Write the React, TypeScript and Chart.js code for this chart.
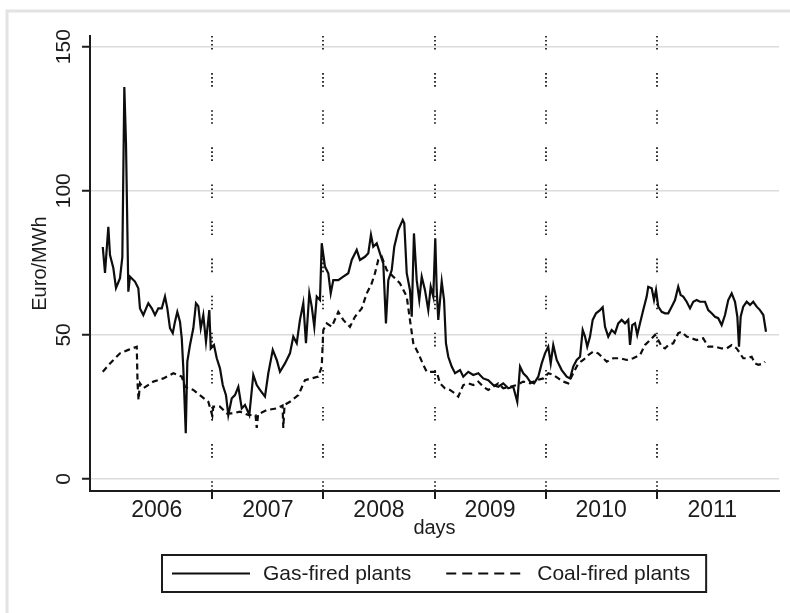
import React, { useEffect, useRef } from 'react';
import { Chart, registerables } from 'chart.js';

Chart.register(...registerables);

const FONT = '"Liberation Sans", Arial, Helvetica, sans-serif';
const INK = '#1c1c1c';

// x axis: year boundaries carry tick marks and dotted verticals, mid-year positions carry the labels
const yearStarts = [2007, 2008, 2009, 2010, 2011];
const yearMids = [2006.5, 2007.5, 2008.5, 2009.5, 2010.5, 2011.5];
const yearLabels = ['2006', '2007', '2008', '2009', '2010', '2011'];
const yTicks = [0, 50, 100, 150];

// [decimal year, Euro/MWh]
const gasSeries: [number, number][] = [
  [2006.014, 80.5], [2006.034, 71.5], [2006.064, 87.5], [2006.079, 77.7], [2006.109, 73.2],
  [2006.133, 66.3], [2006.169, 69.7], [2006.19, 77], [2006.208, 136], [2006.223, 116.6],
  [2006.235, 87.5], [2006.244, 65], [2006.259, 70.2], [2006.304, 68.5], [2006.334, 66.2],
  [2006.349, 59.2], [2006.379, 56.9], [2006.424, 61], [2006.455, 59.2], [2006.484, 56.9],
  [2006.514, 59.2], [2006.545, 59.2], [2006.574, 63.3], [2006.595, 59.2], [2006.619, 52.3],
  [2006.644, 50.6], [2006.664, 54.6], [2006.685, 58], [2006.709, 54.6], [2006.725, 48.8],
  [2006.739, 38.4], [2006.761, 15.9], [2006.775, 40.7], [2006.799, 46.5], [2006.829, 52.3],
  [2006.853, 61], [2006.874, 60], [2006.896, 52.3], [2006.919, 56.9], [2006.943, 47.6],
  [2006.973, 58.6], [2006.986, 45.3],
  [2007.015, 46.5], [2007.04, 41.9], [2007.069, 38.4], [2007.094, 32.6], [2007.123, 29.1],
  [2007.144, 22.2], [2007.175, 28], [2007.204, 29.1], [2007.234, 32], [2007.265, 24.5],
  [2007.294, 25.7], [2007.333, 22.2], [2007.369, 36.1], [2007.4, 32.6], [2007.429, 30.9],
  [2007.474, 28.6], [2007.504, 36.7], [2007.544, 44.8], [2007.58, 41.3], [2007.609, 37.2],
  [2007.654, 40.1], [2007.699, 43.6], [2007.729, 49.4], [2007.76, 47.1], [2007.789, 55.2],
  [2007.819, 61], [2007.843, 47.1], [2007.873, 64.4], [2007.895, 59.8], [2007.918, 52.8],
  [2007.94, 63.3], [2007.969, 62.1], [2007.985, 81.8],
  [2008.014, 73.7], [2008.044, 71.4], [2008.066, 64.4], [2008.089, 69], [2008.134, 69],
  [2008.179, 70.2], [2008.224, 71.4], [2008.255, 76], [2008.3, 79.5], [2008.329, 76],
  [2008.374, 77.1], [2008.404, 78.3], [2008.428, 84.7], [2008.449, 80.6], [2008.48, 81.8],
  [2008.509, 78.3], [2008.539, 74.8], [2008.563, 54], [2008.584, 69], [2008.615, 72.5],
  [2008.638, 80.6], [2008.674, 86.4], [2008.714, 89.9], [2008.728, 88.7], [2008.75, 71.4],
  [2008.779, 65.6], [2008.795, 56.3], [2008.815, 85.2], [2008.84, 69], [2008.863, 62.1],
  [2008.885, 70.2], [2008.914, 65.6], [2008.944, 58.6], [2008.966, 66.7], [2008.989, 63.3],
  [2009.007, 83.5], [2009.02, 65.6], [2009.034, 55.2], [2009.065, 68.5], [2009.086, 62.1],
  [2009.103, 47.1], [2009.124, 42.4], [2009.155, 39], [2009.185, 36.7], [2009.23, 37.8],
  [2009.259, 35.5], [2009.304, 37.2], [2009.349, 36.1], [2009.394, 36.7], [2009.439, 34.9],
  [2009.484, 34.3], [2009.529, 32.6], [2009.574, 32], [2009.619, 33.2], [2009.664, 31.5],
  [2009.709, 32], [2009.745, 26.8], [2009.77, 39], [2009.799, 36.7], [2009.83, 35.5],
  [2009.86, 33.8], [2009.896, 33.2], [2009.934, 35.5], [2009.965, 40.1], [2009.995, 43.6],
  [2010.024, 45.9], [2010.046, 40.1], [2010.069, 46.5], [2010.1, 41.3], [2010.145, 37.8],
  [2010.19, 35.5], [2010.22, 34.9], [2010.249, 39], [2010.28, 41.3], [2010.31, 42.4],
  [2010.334, 51.7], [2010.355, 49.4], [2010.375, 45.9], [2010.4, 49.4], [2010.424, 55.2],
  [2010.454, 57.5], [2010.49, 58.6], [2010.514, 59.6], [2010.535, 52.8], [2010.564, 49.4],
  [2010.595, 51.7], [2010.625, 50.6], [2010.654, 54], [2010.685, 55.2], [2010.715, 54],
  [2010.744, 55.2], [2010.76, 46.5], [2010.78, 53.4], [2010.805, 54], [2010.825, 50],
  [2010.85, 54], [2010.879, 58.6], [2010.91, 63.3], [2010.924, 66.7], [2010.955, 66.2],
  [2010.976, 62.1], [2010.994, 65.6],
  [2011.014, 59.8], [2011.045, 58], [2011.075, 57.5], [2011.104, 57.5], [2011.135, 59.8],
  [2011.165, 62.1], [2011.194, 66.7], [2011.216, 63.8], [2011.239, 63.3], [2011.27, 61.5],
  [2011.3, 59.2], [2011.329, 61.5], [2011.36, 62.1], [2011.39, 61.5], [2011.435, 61.5],
  [2011.464, 58.6], [2011.495, 57.5], [2011.525, 56.3], [2011.554, 55.8], [2011.585, 53.4],
  [2011.615, 56.9], [2011.644, 62.1], [2011.675, 64.4], [2011.705, 61.5], [2011.726, 56.3],
  [2011.741, 45.9], [2011.756, 56.3], [2011.779, 59.8], [2011.81, 61.5], [2011.84, 60.4],
  [2011.869, 61.5], [2011.9, 59.8], [2011.93, 58.6], [2011.96, 56.9], [2011.984, 51.1],
];

const coalSeries: [number, number][] = [
  [2006.014, 37.2], [2006.079, 40.1], [2006.169, 43.6], [2006.244, 44.8], [2006.32, 45.9],
  [2006.327, 33.2], [2006.336, 27.4], [2006.349, 33.2], [2006.379, 31.5], [2006.469, 33.8],
  [2006.559, 34.9], [2006.649, 36.7], [2006.725, 35.5], [2006.754, 32], [2006.829, 30.9],
  [2006.905, 28.6], [2006.964, 26.8], [2007.0, 22], [2007.009, 25.1],
  [2007.069, 25.1], [2007.13, 22.8], [2007.189, 22.8], [2007.249, 23.4], [2007.324, 22.2],
  [2007.389, 22.2], [2007.4, 17.7], [2007.412, 22.5], [2007.49, 23.9], [2007.58, 24.5],
  [2007.632, 25.5], [2007.639, 17.7], [2007.65, 25.7], [2007.699, 26.8], [2007.774, 29.1],
  [2007.834, 34.3], [2007.895, 34.9], [2007.954, 35.5], [2007.985, 39],
  [2007.999, 51.7], [2008.03, 54], [2008.075, 52.8], [2008.134, 58], [2008.179, 55.2],
  [2008.239, 52.8], [2008.284, 56.3], [2008.345, 59.2], [2008.39, 64.4], [2008.435, 67.9],
  [2008.464, 71.4], [2008.494, 76], [2008.525, 77.1], [2008.57, 72.5], [2008.629, 70.2],
  [2008.689, 67.9], [2008.75, 63.3], [2008.779, 55.2], [2008.809, 47.1], [2008.854, 43.6],
  [2008.899, 39.6], [2008.93, 37.2], [2008.989, 37.2],
  [2009.02, 37.2], [2009.049, 33.2], [2009.094, 31.5], [2009.139, 30.9], [2009.185, 29.7],
  [2009.214, 28.6], [2009.259, 32.6], [2009.304, 33.2], [2009.349, 32.6], [2009.394, 33.8],
  [2009.439, 32], [2009.484, 30.9], [2009.529, 32], [2009.574, 33.2], [2009.619, 31.5],
  [2009.68, 32], [2009.74, 32.6], [2009.799, 33.8], [2009.86, 33.2], [2009.92, 34.3],
  [2009.98, 34.9],
  [2010.025, 36.7], [2010.07, 36.1], [2010.115, 34.9], [2010.159, 33.8], [2010.204, 33.2],
  [2010.249, 36.7], [2010.294, 40.1], [2010.339, 41.3], [2010.384, 43], [2010.429, 44.2],
  [2010.474, 43.6], [2010.519, 41.9], [2010.55, 40.7], [2010.609, 41.9], [2010.67, 41.9],
  [2010.73, 41.3], [2010.789, 41.9], [2010.85, 43], [2010.895, 46.5], [2010.94, 48.2],
  [2010.985, 50],
  [2011.014, 48.2], [2011.045, 45.9], [2011.075, 45.3], [2011.104, 46.5], [2011.149, 47.1],
  [2011.194, 50.6], [2011.225, 51.1], [2011.27, 49.4], [2011.315, 48.8], [2011.36, 48.2],
  [2011.419, 48.8], [2011.464, 45.9], [2011.525, 45.9], [2011.585, 45.3], [2011.63, 45.3],
  [2011.675, 46.5], [2011.72, 45.3], [2011.75, 43.6], [2011.779, 41.9], [2011.81, 41.9],
  [2011.855, 42.4], [2011.885, 40.1], [2011.915, 39.6], [2011.96, 40.1], [2011.975, 40.7],
];

const seriesLabels = ['Gas-fired plants', 'Coal-fired plants'];
const coalDash = [6, 4];
const legendDash = [10, 6];
const dottedPattern = [1.6, 2.4, 1.6, 2.4, 1.6, 2.4, 1.6, 23.5];

const isYearStart = (v: number | undefined) =>
  v !== undefined && yearStarts.some((s) => Math.abs(s - v) < 1e-6);

// light grey frame around the graph region
const framePlugin = {
  id: 'frame',
  beforeDraw(chart: any) {
    const { ctx, width, height } = chart;
    ctx.save();
    ctx.strokeStyle = '#e3e3e3';
    ctx.lineWidth = 3;
    ctx.beginPath();
    ctx.moveTo(7, height);
    ctx.lineTo(7, 11);
    ctx.lineTo(width, 11);
    ctx.stroke();
    ctx.restore();
  },
};

// boxed legend under the axis title
const boxedLegend = {
  id: 'boxedLegend',
  afterDraw(chart: any) {
    const { ctx, chartArea } = chart;
    const datasets = chart.data.datasets;
    ctx.save();
    ctx.font = `21px ${FONT}`;
    const sample = 78;
    const padL = 10;
    const gapText = 13;
    const gapItem = 35;
    const padR = 16;
    const widths = datasets.map((d: any) => ctx.measureText(d.label).width);
    const total =
      padL + padR + datasets.length * (sample + gapText) +
      widths.reduce((a: number, b: number) => a + b, 0) + gapItem * (datasets.length - 1);
    const cx = (chartArea.left + chartArea.right) / 2;
    const left = Math.round(cx - total / 2);
    const top = chartArea.bottom + 64;
    const h = 37;
    ctx.strokeStyle = INK;
    ctx.lineWidth = 2;
    ctx.strokeRect(left, top, total, h);
    const cy = top + h / 2;
    let x = left + padL;
    datasets.forEach((d: any, i: number) => {
      ctx.setLineDash(d.borderDash && d.borderDash.length ? legendDash : []);
      ctx.strokeStyle = d.borderColor;
      ctx.lineWidth = 2;
      ctx.beginPath();
      ctx.moveTo(x, cy);
      ctx.lineTo(x + sample, cy);
      ctx.stroke();
      ctx.setLineDash([]);
      x += sample + gapText;
      ctx.fillStyle = INK;
      ctx.textBaseline = 'middle';
      ctx.textAlign = 'left';
      ctx.fillText(d.label, x, cy + 1);
      x += widths[i] + gapItem;
    });
    ctx.restore();
  },
};

export default function App() {
  const ref = useRef<HTMLCanvasElement>(null);

  useEffect(() => {
    if (!ref.current) return;
    const chart = new Chart(ref.current, {
      type: 'line',
      data: {
        datasets: [
          {
            label: seriesLabels[0],
            data: gasSeries.map(([x, y]) => ({ x, y })),
            borderColor: '#0d0d0d',
            borderWidth: 2.2,
            pointRadius: 0,
            fill: false,
            tension: 0,
          },
          {
            label: seriesLabels[1],
            data: coalSeries.map(([x, y]) => ({ x, y })),
            borderColor: '#0d0d0d',
            borderWidth: 2.2,
            borderDash: coalDash,
            pointRadius: 0,
            fill: false,
            tension: 0,
          },
        ],
      },
      options: {
        responsive: false,
        animation: false,
        events: [],
        layout: { padding: { top: 36, right: 11, left: 0, bottom: 0 } },
        plugins: {
          legend: { display: false },
          tooltip: { enabled: false },
        },
        scales: {
          x: {
            type: 'linear',
            position: 'bottom',
            min: 2005.899,
            max: 2012.101,
            afterBuildTicks: (scale: any) => {
              scale.ticks = [...yearStarts, ...yearMids]
                .sort((a, b) => a - b)
                .map((value) => ({ value }));
            },
            afterFit: (scale: any) => {
              scale.height = 122;
            },
            ticks: {
              autoSkip: false,
              maxRotation: 0,
              minRotation: 0,
              padding: 0,
              color: INK,
              font: { family: FONT, size: 23, lineHeight: 1 },
              callback: (value: any) => {
                const i = yearMids.findIndex((m) => Math.abs(m - Number(value)) < 1e-6);
                return i >= 0 ? yearLabels[i] : '';
              },
            },
            grid: {
              color: (c: any) => (isYearStart(c.tick?.value) ? '#333333' : 'rgba(0,0,0,0)'),
              lineWidth: 2,
              tickColor: (c: any) => (isYearStart(c.tick?.value) ? INK : 'rgba(0,0,0,0)'),
              tickLength: 8,
              tickWidth: 2,
            },
            border: { display: true, color: INK, width: 2, dash: dottedPattern },
            title: {
              display: true,
              text: 'days',
              color: INK,
              font: { family: FONT, size: 20, lineHeight: 1.2 },
              padding: { top: 0, bottom: 73 },
            },
          },
          y: {
            type: 'linear',
            min: -4.16,
            max: 153.7,
            afterBuildTicks: (scale: any) => {
              scale.ticks = yTicks.map((value) => ({ value }));
            },
            afterFit: (scale: any) => {
              scale.width = 90;
            },
            ticks: {
              minRotation: 90,
              maxRotation: 90,
              crossAlign: 'center',
              padding: 0,
              color: INK,
              font: { family: FONT, size: 21 },
            },
            grid: {
              color: '#dcdcdc',
              lineWidth: 1.5,
              tickColor: INK,
              tickLength: 8,
              tickWidth: 2,
            },
            border: { display: true, color: INK, width: 2 },
            title: {
              display: true,
              text: 'Euro/MWh',
              color: INK,
              font: { family: FONT, size: 20, lineHeight: 1.2 },
              padding: { top: 28, bottom: 0 },
            },
          },
        },
      } as any,
      plugins: [framePlugin, boxedLegend],
    });
    return () => chart.destroy();
  }, []);

  return (
    <div style={{ position: 'absolute', left: 0, top: 0, width: 790, height: 613, background: '#ffffff' }}>
      <canvas ref={ref} width={790} height={613} style={{ display: 'block', width: 790, height: 613 }} />
    </div>
  );
}
